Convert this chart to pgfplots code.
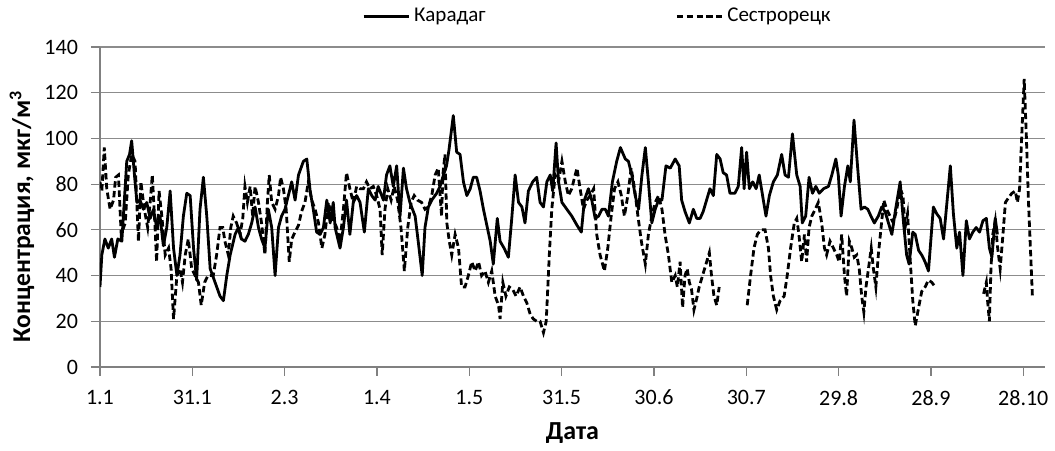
\documentclass[border=0pt]{standalone}
\usepackage{fontspec}
\setmainfont{Carlito}
\usepackage{pgfplots}
\pgfplotsset{compat=1.18}
\usepackage{pgfplotstable}

\pgfplotstableread{
d v
0 35
0.6 49
1.6 56
2.7 52
3.8 56
4.7 48
5.8 56
7.1 55
8.7 90
9.6 93
10.3 99
11.2 84
12 72
13 73
14.1 69
15.2 72
16.3 65
17.4 69
18.4 61
19.5 66
20.6 53
21.7 61
22.8 77
23.9 52
25 40
26 49
27.1 66
28.2 76
29.3 75
30.4 52
31.4 38
32.5 69
33.6 83
34.7 66
35.8 43
37.4 37
39 31
40.1 29
41.2 40
42.3 49
43.9 58
45 61
46 56
47.1 55
48.2 58
49.3 63
50.4 70
51.5 61
52.5 56
53.6 52
54.7 69
55.8 61
56.9 40
58 61
59 66
60.1 69
61.2 75
62.3 81
63.4 73
64.5 84
66.1 90
67.2 91
68.3 77
69.3 69
70.4 59
71.5 58
72.6 61
73.7 73
74.8 63
75.8 72
76.4 61
78 52
79.1 61
80.1 73
81.2 58
82.3 72
83.4 75
84.5 72
85.9 59
87.2 78
88.3 75
89.4 73
90.4 79
92.1 73
93.1 84
94.2 88
95.3 79
96.4 88
97.5 66
98.6 87
99.6 78
100.7 72
102.4 66
103.4 55
104.7 40
105.6 61
106.7 70
107.8 73
109.4 76
110.5 79
111.6 84
112.6 88
113.4 95
114.8 110
115.9 94
117 93
118.1 81
119.2 75
120.3 78
121.3 83
122.4 83
123.5 77
124.6 69
125.7 62
126.8 55
127.8 45
129.1 65
130 55
131.3 52
132.7 48
133.8 65
134.9 84
136 72
137.1 70
138.1 63
139.2 77
140.6 81
141.9 83
143 72
144.1 70
145.2 81
146.3 84
147.1 77
148.2 98
149 81
150.1 72
151.7 69
153.3 66
155 62
156.4 59
157.4 73
158.7 78
159.8 73
160.9 65
162 66
163.1 69
164.2 69
165.2 66
166.5 81
167.9 90
169.1 96
170.7 91
171.7 90
172.8 84
173.9 75
175 69
176.1 84
177.2 96
178.2 81
179.3 63
180.4 69
181.5 73
182.6 73
183.9 88
185.3 87
186.9 91
188.2 88
189 73
190.1 68
191.5 63
192.8 69
193.9 65
195 65
196 68
197.1 73
198.2 78
199.3 75
200.4 93
201.5 91
202.5 85
203.6 84
204.7 76
206.3 76
207.4 79
208.5 96
209.3 78
210.1 94
211 78
212.1 81
213.2 78
214.2 84
215.3 75
216.4 66
217.5 75
218.8 81
220.1 84
221.5 93
222.6 84
223.7 83
225 102
226.4 84
227.5 79
228.2 63
229.3 66
230.4 83
231.5 76
232.6 79
233.7 76
235.1 78
236.7 79
237.8 84
239.1 91
239.9 84
240.8 66
241.9 79
243 88
243.8 81
245 108
246.2 87
247.3 69
248.4 70
249.5 69
250.5 66
251.6 63
252.9 66
254 70
255.1 68
256.2 63
257.3 58
258.4 68
260 81
261.1 63
262.1 49
262.9 45
264.1 59
264.9 58
266 51
267 49
268.1 46
269.2 42
270.8 70
271.9 67
273 65
274.1 56
275.2 72
276.3 88
277.3 67
278.4 52
279.3 59
280.4 40
281.5 64
282.5 56
283.6 59
284.7 61
285.8 59
286.9 64
288 65
289 52
289.8 48
290.9 65
291.6 58
}\karadag

\pgfplotstableread{
d v
0 81
0.6 77
1.4 96
2.2 78
3.3 69
4.4 73
5.1 83
6 84
6.9 58
8.2 63
9.2 84
10.3 93
11.4 90
12.5 55
13.3 81
14.4 69
15.5 61
16.3 72
17 84
17.9 61
18.4 46
19.2 77
20.1 66
21.2 49
22.3 52
23.1 43
23.9 21
25 40
26 43
26.8 37
27.7 49
28.7 56
29.8 43
30.9 40
32 37
32.9 27
34 37
35.1 40
36.1 40
36.8 40
37.9 49
39 61
39.9 61
40.6 55
41.7 49
42.5 61
43.3 66
44.4 63
45.5 58
46.4 65
47.1 79
47.9 72
48.8 79
49.6 66
50.4 79
51.5 72
52.5 63
53.6 49
54.4 72
55 84
55.8 72
56.9 69
58 75
58.7 83
59.6 78
60.5 69
61.5 46
62.3 56
63.4 59
64.5 62
65.5 68
66.6 72
67.7 81
68.8 73
69.9 69
71 63
72.1 52
73.1 58
74.2 72
75.3 66
76.9 61
78 55
79.1 69
80.1 85
81.2 78
82.3 72
83.4 79
84.5 78
85.6 78
86.6 81
87.7 78
88.8 79
89.9 75
91 69
91.7 49
92.6 69
93.5 78
94.6 73
95.6 79
96.7 73
97.8 61
98.9 42
100 61
101.1 72
102.1 75
103.2 73
104.5 72
105.6 69
106.7 70
107.8 75
108.9 84
109.9 87
111 66
111.4 84
112.1 93
112.7 63
113.5 55
114.3 49
115.4 58
116.5 52
117.5 35
118.6 35
119.7 40
120.8 46
121.9 42
123 46
124 40
125.1 42
126.2 37
127.3 42
128.4 31
129.5 27
130 21
130.9 37
131.9 31
133 35
134.1 34
135.2 31
136.5 35
137.6 31
138.7 28
139.8 23
140.8 21
141.9 20
143 20
144.1 15
145 20
146 49
146.8 69
147.9 84
149 81
150.1 90
151.2 81
152.2 75
153.3 78
154.2 83
155 87
156 78
157.1 69
158.2 73
159.3 75
160.4 78
161.4 58
162.5 49
163.9 42
165 52
166.1 66
167.2 78
168.3 81
169.4 75
170.4 66
171.5 75
172.6 87
173.7 78
174.8 66
175.9 55
177.2 45
178.2 58
179.3 66
180.4 72
181.5 75
182.6 69
183.6 58
184.7 49
185.8 37
186.9 40
187.6 35
188.5 46
189.3 26
190.1 40
190.8 43
191.5 37
192.2 34
193 25
193.9 30
194.7 35
195.8 40
196.9 45
198 50
198.7 40
199.5 31
200.4 27
201.2 35
202 nan
210.3 27
211.4 40
212.5 52
213.6 58
214.7 60
216.1 60
217.2 52
217.9 40
218.8 31
219.9 25
221 29
222.3 31
223.3 40
224.4 52
225.6 63
226.4 65
227.1 58
228 46
228.9 58
229.6 46
230.4 61
231.3 66
232.4 69
233.4 72
234.5 63
235.4 52
236.1 49
237.2 55
238.3 52
239.4 49
240.2 46
241 58
241.9 40
242.6 31
243.5 55
244.3 52
245.1 48
245.9 49
246.7 43
247.5 31
248.2 24
248.9 35
249.7 43
250.6 52
251.3 43
252.1 35
252.9 49
253.8 61
254.7 73
255.6 69
256.7 66
257.8 63
258.9 69
260 78
260.9 75
261.6 61
262.4 67
263.3 46
264.1 29
264.9 18
266 26
267 33
268.1 35
269.2 38
270.3 37
271.4 35
272 nan
287.1 32
288 37
288.4 29
289 20
289.5 43
290.1 58
290.9 64
291.6 53
292.5 43
293.4 58
294.2 72
295.2 74
296.3 76
297.4 77
298.1 72
298.8 78
299.5 101
300.3 126
301 101
301.7 72
303 30
}\sestr

\begin{document}
\begin{tikzpicture}
\begin{axis}[
  name=ax,
  scale only axis,
  width=472.5pt, height=160pt,
  font=\fontsize{11}{13}\selectfont,
  /pgf/number format/assume math mode=true,
  xmin=0, xmax=307, ymin=0, ymax=140,
  axis x line=bottom, axis y line=left,
  axis line style={draw=black!50, line width=0.6pt, -},
  xtick={0,30,...,300},
  xticklabels={1.1,31.1,2.3,1.4,1.5,31.5,30.6,30.7,29.8,28.9,28.10},
  ytick={0,20,...,140},
  tick align=outside,
  major tick length=4.5pt,
  tick style={draw=black!50, line width=0.6pt},
  ymajorgrids,
  grid style={draw=black!45, line width=0.6pt},
  xticklabel style={yshift=-3.5pt},
  yticklabel style={xshift=-3pt},
  unbounded coords=jump,
  xlabel={\bfseries Дата},
  ylabel={\bfseries Концентрация, мкг/м\textsuperscript{3}},
  xlabel style={font=\fontsize{13}{15}\selectfont, at={(axis description cs:0.5,-0.206)}, anchor=center},
  ylabel style={font=\fontsize{12.8}{15}\selectfont, at={(axis description cs:-0.0825,0.47)}, anchor=center},
  legend style={draw=none, fill=none, at={(axis description cs:0.2772,1.0)}, anchor=south west, yshift=7pt,
    legend columns=2, font=\fontsize{10.5}{12.6}\selectfont,
    inner xsep=0pt,
    /tikz/every even column/.append style={column sep=93pt}},
  legend image code/.code={\draw[#1] (0pt,0pt) -- (22.5pt,0pt);},
]
\addplot[black, line width=1.4pt, line join=round] table[x=d, y=v] {\karadag};
\addlegendentry{Карадаг}
\addplot[black, line width=1.4pt, dash pattern=on 3.2pt off 1.7pt] table[x=d, y=v] {\sestr};
\addlegendentry{Сестрорецк}
\end{axis}
\path (ax.south west) ++(-50pt,-42pt) rectangle ++(527.5pt,225pt);
\end{tikzpicture}
\end{document}
